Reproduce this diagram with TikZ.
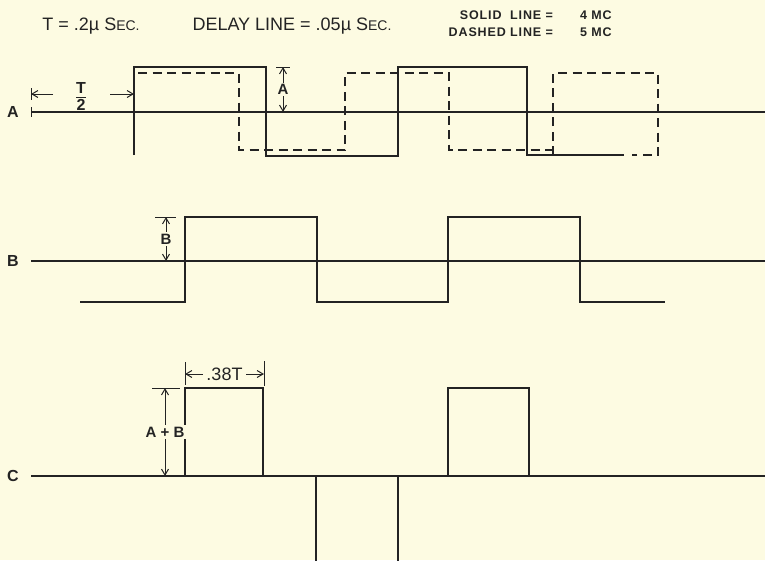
\documentclass[tikz,border=0pt]{standalone}
\usepackage{fontspec}
\setmainfont{Liberation Sans}
\usetikzlibrary{arrows.meta}
\definecolor{paper}{RGB}{253,251,226}
\definecolor{ink}{RGB}{35,35,35}
\newcommand{\secunit}{S{\fontsize{14}{14}\selectfont EC.}}

\begin{document}
\begin{tikzpicture}[x=1pt,y=-1pt,line width=1.4pt,ink,
	dashwave/.style={dash pattern=on 9pt off 5.5pt},
	dim/.style={line width=1pt,{Straight Barb[length=6pt,width=7pt]}-{Straight Barb[length=6pt,width=7pt]}},
	bar/.style={line width=1pt},
	tag/.style={font=\bfseries\fontsize{16}{16}\selectfont},
	lbl/.style={font=\fontsize{18}{18}\selectfont},
	hdr/.style={font=\bfseries\fontsize{12.5}{12.5}\selectfont\addfontfeature{LetterSpace=7}},
	dimlbl/.style={fill=paper,inner sep=1.5pt,font=\bfseries\fontsize{15}{15}\selectfont}]
			%paper and frame
			\fill[paper] (0,0) rectangle (765,560);
			\useasboundingbox (0,0) rectangle (765,560);
			%headings
			\node[lbl] (hdrT) at (91,26) {T = .2µ \secunit};
			\node[lbl] (hdrDelay) at (292,26) {DELAY LINE = .05µ \secunit};
			\node[hdr,anchor=east] (hdrSolid) at (557,15) {SOLID\ \ LINE =};
			\node[hdr,anchor=west] (valSolid) at (576,15) {4 MC};
			\node[hdr,anchor=east] (hdrDashed) at (557,32) {DASHED LINE =};
			\node[hdr,anchor=west] (valDashed) at (576,32) {5 MC};
			%trace A
			\node[tag] (labA) at (13,112) {A};
			\draw (31,112) -- (765,112);
			\draw[bar] (31,107) -- (31,117);
			\draw (134,155) -- (134,67) -- (266,67) -- (266,156) -- (398,156) -- (398,67) -- (527,67) -- (527,155) -- (624,155);
			\draw[dashwave] (138,73) -- (239,73) -- (239,150) -- (345,150) -- (345,73) -- (449,73) -- (449,150) -- (553,150);
			\draw[dashwave] (553,155) -- (553,73) -- (658,73) -- (658,155) -- (632,155);
			%half period T/2
			\node[tag] (halfT) at (81,88) {T};
			\node[tag] (half2) at (81,105) {2};
			\draw[bar] (76,97) -- (86,97);
			\coordinate (halfL) at (31,94);
			\coordinate (halfR) at (134,94);
			\draw[bar] (31,88) -- (31,100);
			\draw[bar,-{Straight Barb[length=6pt,width=7pt]}] (53,94) -- (halfL);
			\draw[bar,-{Straight Barb[length=6pt,width=7pt]}] (110,94) -- (halfR);
			%amplitude A
			\coordinate (ampAt) at (283,67);
			\coordinate (ampAb) at (283,112);
			\draw[bar] (276,67) -- (290,67);
			\draw[dim] (ampAt) -- node[dimlbl] (dimA) {A} (ampAb);
			%trace B
			\node[tag] (labB) at (13,261) {B};
			\draw (31,261) -- (765,261);
			\draw (80,302) -- (185,302) -- (185,217) -- (317,217) -- (317,302) -- (448,302) -- (448,217) -- (580,217) -- (580,302) -- (665,302);
			\coordinate (ampBt) at (166,217);
			\coordinate (ampBb) at (166,261);
			\draw[bar] (155,217) -- (176,217);
			\draw[dim] (ampBt) -- node[dimlbl] (dimB) {B} (ampBb);
			%trace C
			\node[tag] (labC) at (13,476) {C};
			\draw (31,476) -- (765,476);
			\draw (185,476) -- (185,388) -- (263,388) -- (263,476);
			\draw (448,476) -- (448,388) -- (529,388) -- (529,476);
			\draw (316,476) -- (316,561);
			\draw (398,476) -- (398,561);
			\coordinate (ampCt) at (165,388);
			\coordinate (ampCb) at (165,476);
			\draw[bar] (152,388) -- (180,388);
			\draw[dim] (ampCt) -- node[dimlbl] (dimAB) {A + B} (ampCb);
			%pulse width
			\coordinate (wideL) at (185,374);
			\coordinate (wideR) at (264,374);
			\draw[bar] (185,362) -- (185,385);
			\draw[bar] (264,361) -- (264,386);
			\draw[dim] (wideL) -- node[dimlbl,inner sep=3pt,font=\fontsize{18}{18}\selectfont] (dimW) {.38T} (wideR);
		\end{tikzpicture}
\end{document}
